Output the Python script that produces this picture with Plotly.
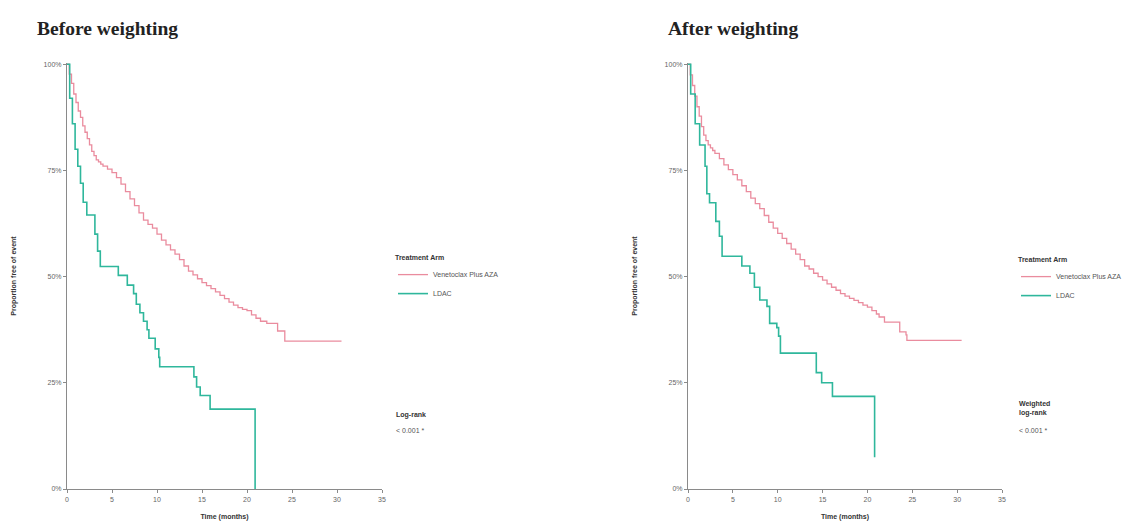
import plotly.graph_objects as go

# ---------------- data (Kaplan-Meier step points: time in months, survival proportion) -------------
before_ven_t = [0, 0.25, 0.5, 0.75, 1.0, 1.25, 1.5, 1.75, 2.0, 2.25, 2.5, 2.75, 3.0, 3.25, 3.5, 3.75,
                4.0, 4.5, 5.0, 5.5, 6.0, 6.5, 7.0, 7.5, 8.0, 8.5, 9.0, 9.5, 10.0, 10.5, 11.0, 11.5,
                12.0, 12.5, 13.0, 13.5, 14.0, 14.5, 15.0, 15.5, 16.0, 16.5, 17.0, 17.5, 18.0, 18.5,
                19.0, 19.5, 20.0, 20.5, 21.0, 21.5, 22.2, 23.4, 24.2, 30.5]
before_ven_s = [1.00, 0.977, 0.955, 0.93, 0.91, 0.89, 0.875, 0.855, 0.84, 0.825, 0.81, 0.795, 0.785,
                0.775, 0.77, 0.765, 0.76, 0.753, 0.745, 0.733, 0.718, 0.70, 0.683, 0.667, 0.65,
                0.633, 0.623, 0.614, 0.60, 0.586, 0.575, 0.563, 0.553, 0.54, 0.525, 0.513, 0.504,
                0.495, 0.486, 0.479, 0.472, 0.464, 0.456, 0.448, 0.44, 0.433, 0.427, 0.423, 0.42,
                0.41, 0.402, 0.395, 0.39, 0.372, 0.348, 0.348]

before_ldac_t = [0, 0.3, 0.6, 0.9, 1.2, 1.5, 1.8, 2.2, 3.1, 3.4, 3.7, 5.7, 6.7, 7.4, 7.7, 8.1, 8.5,
                 8.9, 9.1, 9.8, 10.2, 10.3, 14.1, 14.4, 14.8, 15.9, 20.9]
before_ldac_s = [1.00, 0.92, 0.86, 0.80, 0.76, 0.72, 0.675, 0.645, 0.60, 0.56, 0.524, 0.503, 0.48,
                 0.46, 0.435, 0.415, 0.395, 0.375, 0.355, 0.33, 0.31, 0.288, 0.264, 0.24, 0.22,
                 0.188, 0.0]

after_ven_t = [0, 0.25, 0.5, 0.75, 1.0, 1.25, 1.5, 1.75, 2.0, 2.25, 2.5, 2.75, 3.0, 3.5, 4.0, 4.5,
               5.0, 5.5, 6.0, 6.5, 7.0, 7.5, 8.0, 8.5, 9.0, 9.5, 10.0, 10.5, 11.0, 11.5, 12.0, 12.5,
               13.0, 13.5, 14.0, 14.5, 15.0, 15.5, 16.0, 16.5, 17.0, 17.5, 18.0, 18.5, 19.0, 19.5,
               20.0, 20.5, 21.0, 21.3, 21.9, 23.6, 24.3, 24.4, 30.5]
after_ven_s = [1.00, 0.975, 0.95, 0.925, 0.90, 0.878, 0.853, 0.833, 0.82, 0.81, 0.803, 0.797, 0.79,
               0.778, 0.763, 0.752, 0.74, 0.728, 0.714, 0.70, 0.685, 0.672, 0.66, 0.644, 0.628,
               0.614, 0.602, 0.59, 0.578, 0.565, 0.553, 0.54, 0.525, 0.518, 0.508, 0.50, 0.492,
               0.483, 0.475, 0.468, 0.46, 0.454, 0.449, 0.444, 0.439, 0.433, 0.428, 0.42, 0.412,
               0.405, 0.393, 0.37, 0.363, 0.35, 0.35]

after_ldac_t = [0, 0.3, 0.8, 1.3, 1.9, 2.1, 2.4, 3.1, 3.5, 3.8, 6.0, 6.9, 7.4, 8.0, 8.8, 9.1, 9.9,
                10.1, 10.3, 14.3, 14.9, 16.1, 20.8]
after_ldac_s = [1.00, 0.93, 0.86, 0.81, 0.76, 0.695, 0.674, 0.63, 0.595, 0.548, 0.525, 0.508, 0.475,
                0.445, 0.43, 0.39, 0.38, 0.36, 0.32, 0.274, 0.25, 0.218, 0.075]

arm_names = ["Venetoclax Plus AZA", "LDAC"]
arm_colors = ["#ea8c9e", "#2fb79c"]
panel_titles = ["Before weighting", "After weighting"]
test_labels = ["Log-rank", "Weighted<br>log-rank"]
p_values = ["< 0.001 *", "< 0.001 *"]
x_ticks = [0, 5, 10, 15, 20, 25, 30, 35]
y_ticks = [0, 0.25, 0.5, 0.75, 1.0]
y_tick_text = ["0%", "25%", "50%", "75%", "100%"]

W, H = 1131, 525
SANS = "Liberation Sans, Arial, sans-serif"
SERIF = "Liberation Serif, Times New Roman, serif"

fig = go.Figure()

panels = [
    (before_ven_t, before_ven_s, before_ldac_t, before_ldac_s, "x", "y", "legend"),
    (after_ven_t, after_ven_s, after_ldac_t, after_ldac_s, "x2", "y2", "legend2"),
]
widths = [1.3, 1.6]
for vt, vs, lt, ls, xa, ya, lg in panels:
    for (t, s), name, col, w in zip([(vt, vs), (lt, ls)], arm_names, arm_colors, widths):
        fig.add_trace(go.Scatter(
            x=t, y=s, mode="lines", line=dict(color=col, width=w, shape="hv"),
            name=name, xaxis=xa, yaxis=ya, legend=lg, showlegend=True,
        ))

x_domains = [[67 / W, 382 / W], [688 / W, 1002 / W]]
y_domain = [1 - 489 / H, 1 - 63 / H]

axis_common = dict(
    showgrid=False, zeroline=False, showline=True, linecolor="#8a8a8a", linewidth=1.2,
    ticks="outside", ticklen=3, tickcolor="#8a8a8a", tickfont=dict(family=SANS, size=7, color="#666666"),
)
for i, (xa, ya) in enumerate([("xaxis", "yaxis"), ("xaxis2", "yaxis2")]):
    xn = "x" if i == 0 else "x2"
    yn = "y" if i == 0 else "y2"
    fig.layout[xa] = dict(
        domain=x_domains[i], anchor=yn, range=[0, 35], tickvals=x_ticks,
        title=dict(text="<b>Time (months)</b>", font=dict(family=SANS, size=7, color="#333333"), standoff=12),
        **axis_common,
    )
    fig.layout[ya] = dict(
        domain=y_domain, anchor=xn, range=[0, 1.003], tickvals=y_ticks, ticktext=y_tick_text,
        title=dict(text="<b>Proportion free of event</b>", font=dict(family=SANS, size=7, color="#333333"), standoff=26),
        **axis_common,
    )

legend_common = dict(
    font=dict(family=SANS, size=7, color="#555555"), bgcolor="rgba(0,0,0,0)",
    xanchor="left", yanchor="top", tracegroupgap=0, itemwidth=30,
)
fig.update_layout(
    legend=dict(x=393 / W, y=1 - 251 / H, title=dict(text="<b>Treatment Arm</b>", font=dict(family=SANS, size=7, color="#333333")), **legend_common),
    legend2=dict(x=1016 / W, y=1 - 253 / H, title=dict(text="<b>Treatment Arm</b>", font=dict(family=SANS, size=7, color="#333333")), **legend_common),
)

annotations = []
title_x = [35, 666]
for i in range(2):
    annotations.append(dict(
        text="<b>" + panel_titles[i] + "</b>", x=title_x[i] / W, y=1 - 28 / H, xref="paper", yref="paper",
        xanchor="left", yanchor="middle", showarrow=False, font=dict(family=SERIF, size=19.5, color="#222222"),
    ))
test_pos = [(394, 415), (1017, 408)]
p_pos = [(394, 430), (1017, 430)]
for i in range(2):
    annotations.append(dict(
        text="<b>" + test_labels[i] + "</b>", x=test_pos[i][0] / W, y=1 - test_pos[i][1] / H,
        xref="paper", yref="paper", xanchor="left", yanchor="middle", align="left", showarrow=False,
        font=dict(family=SANS, size=7, color="#333333"),
    ))
    annotations.append(dict(
        text=p_values[i], x=p_pos[i][0] / W, y=1 - p_pos[i][1] / H,
        xref="paper", yref="paper", xanchor="left", yanchor="middle", showarrow=False,
        font=dict(family=SANS, size=7, color="#555555"),
    ))

fig.update_layout(
    width=W, height=H, margin=dict(l=0, r=0, t=0, b=0, autoexpand=False),
    paper_bgcolor="white", plot_bgcolor="white", annotations=annotations,
)

fig.write_html("out.html")
